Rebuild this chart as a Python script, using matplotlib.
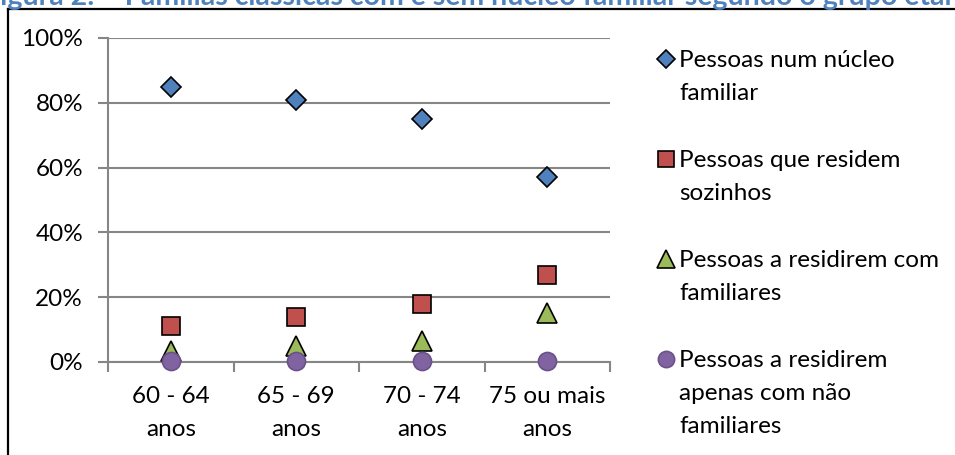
import matplotlib
matplotlib.use('Agg')
import matplotlib.pyplot as plt
from matplotlib.lines import Line2D
from matplotlib.ticker import PercentFormatter, FixedLocator, NullFormatter

plt.rcParams['font.family'] = ['Lato', 'DejaVu Sans']

# age groups and share of people per living arrangement (%)
grupos = ['60 - 64\nanos', '65 - 69\nanos', '70 - 74\nanos', '75 ou mais\nanos']
nucleo_familiar = [85, 81, 75, 57]
residem_sozinhos = [11, 14, 18, 27]
com_familiares = [3.5, 4.8, 6.5, 15]
nao_familiares = [0.3, 0.3, 0.3, 0.4]

series = [
    ('Pessoas num núcleo\nfamiliar', nucleo_familiar, 'D', '#4F81BD', 'black', 10),
    ('Pessoas que residem\nsozinhos', residem_sozinhos, 's', '#C0504D', 'black', 13),
    ('Pessoas a residirem com\nfamiliares', com_familiares, '^', '#9BBB59', 'black', 14),
    ('Pessoas a residirem\napenas com não\nfamiliares', nao_familiares, 'o', '#8064A2', '#6B5089', 13),
]

FS = 17.5
LS = 1.7
W, H = 955, 455
fig = plt.figure(figsize=(W / 100, H / 100), dpi=100)
ax = fig.add_axes([108 / W, 1 - 362 / H, 502 / W, 324 / H])

x = list(range(len(grupos)))
for label, vals, mk, fc, ec, ms in series:
    ax.plot(x, [v / 100 for v in vals], linestyle='none', marker=mk, markersize=ms,
            markerfacecolor=fc, markeredgecolor=ec, markeredgewidth=1.2,
            clip_on=False, zorder=3)

grid_c = '#868686'
ax.set_xlim(-0.5, len(grupos) - 0.5)
ax.set_ylim(0, 1)
ax.yaxis.set_major_locator(FixedLocator([0, 0.2, 0.4, 0.6, 0.8, 1.0]))
ax.yaxis.set_major_formatter(PercentFormatter(1.0, decimals=0))
ax.grid(axis='y', color=grid_c, linewidth=1.5)
ax.set_axisbelow(True)

# category labels centred, ticks on the boundaries
ax.set_xticks(x)
ax.set_xticklabels(grupos, linespacing=LS)
ax.tick_params(axis='x', which='major', length=0, pad=17.5, labelsize=FS, colors='black')
ax.xaxis.set_minor_locator(FixedLocator([-0.5, 0.5, 1.5, 2.5, 3.5]))
ax.xaxis.set_minor_formatter(NullFormatter())
ax.tick_params(axis='x', which='minor', length=7, width=1.5, color=grid_c)
ax.tick_params(axis='y', length=7, width=1.5, color=grid_c, labelsize=FS, pad=11)

for side in ['top', 'right']:
    ax.spines[side].set_visible(False)
for side in ['left', 'bottom']:
    ax.spines[side].set_color(grid_c)
    ax.spines[side].set_linewidth(1.5)

# legend drawn entry by entry, marker beside the first line of each label
leg_tops = [59, 159, 259, 359]
for (label, vals, mk, fc, ec, ms), ty in zip(series, leg_tops):
    fig.add_artist(Line2D([666 / W], [1 - ty / H], transform=fig.transFigure,
                          linestyle='none', marker=mk, markersize=ms * 0.9,
                          markerfacecolor=fc, markeredgecolor=ec, markeredgewidth=1.2))
    fig.text(679 / W, 1 - (ty - 9) / H, label, fontsize=FS, va='top', ha='left',
             linespacing=LS)

# chart frame (top and left edges)
fig.add_artist(Line2D([8 / W, 1], [1 - 9 / H, 1 - 9 / H], transform=fig.transFigure,
                      color='black', linewidth=1.6))
fig.add_artist(Line2D([8 / W, 8 / W], [0, 1 - 9 / H], transform=fig.transFigure,
                      color='black', linewidth=1.6))

# caption above the chart, mostly cut off by the top edge
fig.text(-16 / W, 1 - 5 / H,
         'Figura 2: \u2013 Famílias clássicas com e sem núcleo familiar segundo o grupo etário',
         fontsize=20.5, fontweight='bold', color='#4F81BD', va='baseline', ha='left')

fig.savefig('out.png', dpi=100)
